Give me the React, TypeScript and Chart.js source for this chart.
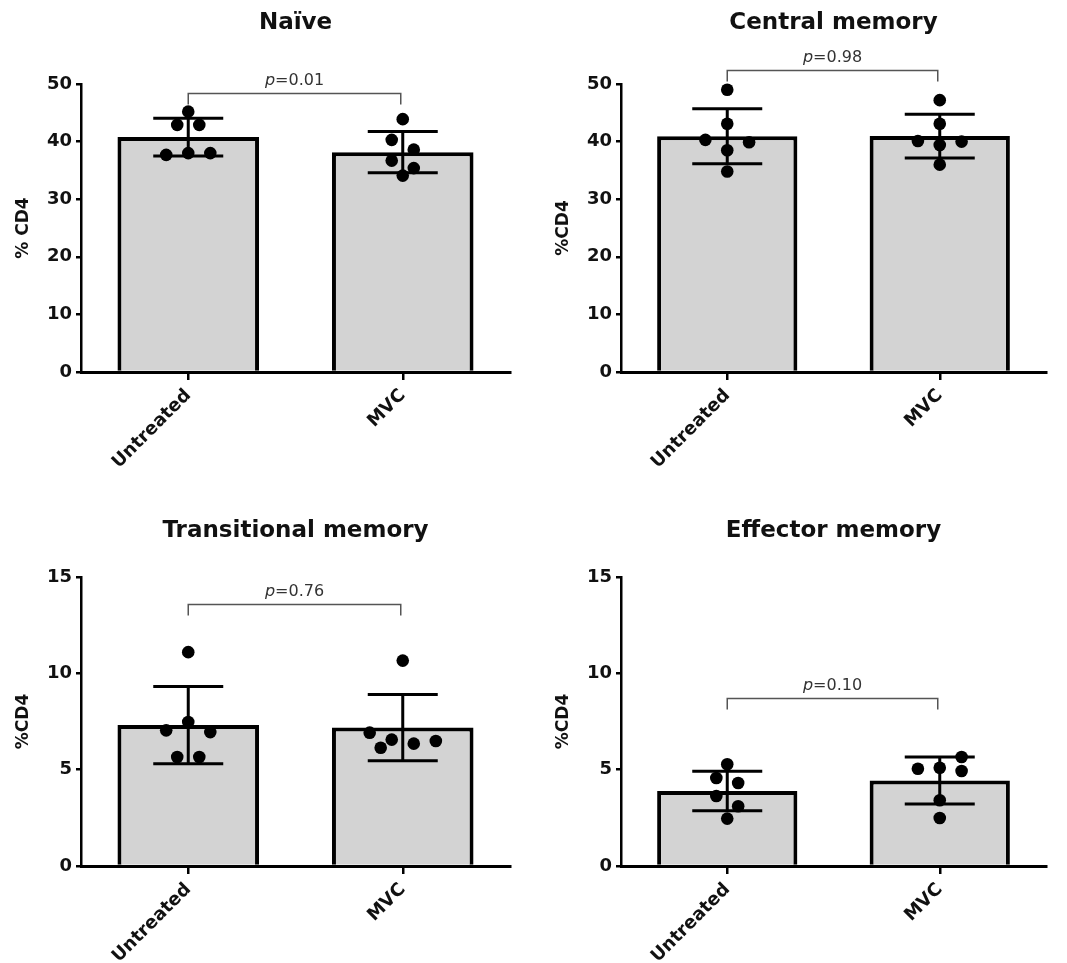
import React, { useEffect, useRef } from 'react';
import { Chart, registerables } from 'chart.js';

Chart.register(...registerables);

// ---------------- data ----------------
const categories = ['Untreated', 'MVC'];
const panelTitles = ['Naïve', 'Central memory', 'Transitional memory', 'Effector memory'];
const yAxisTitles = ['% CD4', '%CD4', '%CD4', '%CD4'];
const yMaxValues = [50, 50, 15, 15];
const yStepValues = [10, 10, 5, 5];
const pValues = ['0.01', '0.98', '0.76', '0.10'];
const bracketLevels = [48.4, 52.5, 13.6, 8.74];

const naiveUntreated = [45.2, 42.9, 42.9, 37.7, 38.0, 38.0];
const naiveMVC = [43.9, 40.3, 38.6, 36.7, 35.4, 34.1];
const centralUntreated = [49.0, 43.1, 40.3, 38.5, 39.9, 34.8];
const centralMVC = [47.2, 43.1, 40.1, 39.4, 40.0, 36.0];
const transitionalUntreated = [11.1, 7.04, 7.47, 6.95, 5.66, 5.66];
const transitionalMVC = [10.66, 6.92, 6.56, 6.35, 6.49, 6.14];
const effectorUntreated = [5.28, 4.57, 4.31, 3.63, 3.1, 2.46];
const effectorMVC = [5.05, 5.1, 5.66, 4.93, 3.41, 2.49];

const seriesByPanel = [
  [naiveUntreated, naiveMVC],
  [centralUntreated, centralMVC],
  [transitionalUntreated, transitionalMVC],
  [effectorUntreated, effectorMVC],
];

// ---------------- layout / style ----------------
const FONT = '"DejaVu Sans", "Liberation Sans", Arial, sans-serif';
const INK = '#111';
const BAR_FILL = '#d3d3d3';

type Layout = { left: number; top: number; w: number; h: number; aL: number; aR: number; aT: number; aB: number; titleY: number };
const layouts: Layout[] = [
  { left: 0, top: 0, w: 530, h: 480, aL: 81, aR: 510, aT: 84, aB: 372, titleY: 23 },
  { left: 530, top: 0, w: 537, h: 480, aL: 91, aR: 516, aT: 84, aB: 372, titleY: 23 },
  { left: 0, top: 480, w: 530, h: 483, aL: 81, aR: 510, aT: 97, aB: 386, titleY: 51 },
  { left: 530, top: 480, w: 537, h: 483, aL: 91, aR: 516, aT: 97, aB: 386, titleY: 51 },
];

const DOT_SPACING_PX = 22;
const ROW_TOL_PX = 12.5;
const DOT_DIAM_PX = 12;
const CAT_WIDTH_PX = 214;
const PLOT_HEIGHT_PX = 289;
const CAP_HALF = 35;

function mean(v: number[]) {
  return v.reduce((a, b) => a + b, 0) / v.length;
}
function sd(v: number[]) {
  const m = mean(v);
  return Math.sqrt(v.reduce((a, b) => a + (b - m) * (b - m), 0) / (v.length - 1));
}

// GraphPad-like scatter-dot layout: rows of near-equal values, centred, collision-avoiding
function swarmOffsets(values: number[], yMax: number): number[] {
  const pxPerUnit = PLOT_HEIGHT_PX / yMax;
  const order = values.map((_, i) => i).sort((a, b) => values[b] - values[a]);
  const rows: number[][] = [];
  let cur: number[] = [];
  let start = 0;
  for (const i of order) {
    if (cur.length && (start - values[i]) * pxPerUnit <= ROW_TOL_PX) cur.push(i);
    else {
      if (cur.length) rows.push(cur);
      cur = [i];
      start = values[i];
    }
  }
  if (cur.length) rows.push(cur);
  const offs = new Array(values.length).fill(0);
  const placed: number[] = [];
  const collides = (i: number, dx: number) =>
    placed.some((j) => Math.hypot(offs[j] - dx, (values[j] - values[i]) * pxPerUnit) < DOT_DIAM_PX);
  const shifts = [0, -11, 11, -22, 22, -33, 33, -44, 44];
  for (const row of rows) {
    row.sort((a, b) => a - b);
    const n = row.length;
    let shift = 0;
    for (const s of shifts) {
      if (row.every((i, k) => !collides(i, (k - (n - 1) / 2) * DOT_SPACING_PX + s))) {
        shift = s;
        break;
      }
    }
    row.forEach((i, k) => {
      offs[i] = (k - (n - 1) / 2) * DOT_SPACING_PX + shift;
    });
    row.forEach((i) => placed.push(i));
  }
  return offs.map((o) => o / CAT_WIDTH_PX);
}

function Panel({ index }: { index: number }) {
  const ref = useRef<HTMLCanvasElement>(null);
  const L = layouts[index];

  useEffect(() => {
    const canvas = ref.current;
    if (!canvas) return;
    const series = seriesByPanel[index];
    const yMax = yMaxValues[index];
    const means = series.map(mean);
    const sds = series.map(sd);
    const points = series.flatMap((vals, ci) => {
      const offs = swarmOffsets(vals, yMax);
      return vals.map((v, i) => ({ x: ci + offs[i], y: v }));
    });

    const overlay = {
      id: 'overlay' + index,
      afterDatasetsDraw(chart: any) {
        const c = chart.ctx;
        const xs = chart.scales.x;
        const ys = chart.scales.y;
        c.save();
        c.strokeStyle = '#000';
        c.lineWidth = 3;
        means.forEach((m, i) => {
          const px = xs.getPixelForValue(i);
          const t = ys.getPixelForValue(m + sds[i]);
          const b = ys.getPixelForValue(m - sds[i]);
          c.beginPath();
          c.moveTo(px, t);
          c.lineTo(px, b);
          c.moveTo(px - CAP_HALF, t);
          c.lineTo(px + CAP_HALF, t);
          c.moveTo(px - CAP_HALF, b);
          c.lineTo(px + CAP_HALF, b);
          c.stroke();
        });
        c.restore();
      },
      afterDraw(chart: any) {
        const c = chart.ctx;
        const xs = chart.scales.x;
        const ys = chart.scales.y;
        const area = chart.chartArea;
        c.save();
        // bracket
        const x0 = xs.getPixelForValue(0);
        const x1 = xs.getPixelForValue(1) - 2;
        const by = Math.round(ys.getPixelForValue(bracketLevels[index])) + 0.5;
        c.strokeStyle = '#555';
        c.lineWidth = 1.5;
        c.beginPath();
        c.moveTo(x0, by + 11);
        c.lineTo(x0, by);
        c.lineTo(x1, by);
        c.lineTo(x1, by + 11);
        c.stroke();
        // p text
        c.fillStyle = '#333';
        c.textBaseline = 'alphabetic';
        const fi = `italic 16px ${FONT}`;
        const fn = `16px ${FONT}`;
        c.font = fi;
        const wp = c.measureText('p').width;
        const rest = '=' + pValues[index];
        c.font = fn;
        const wr = c.measureText(rest).width;
        const mid = (x0 + x1) / 2;
        const sx = mid - (wp + wr) / 2;
        c.textAlign = 'left';
        c.font = fi;
        c.fillText('p', sx, by - 9);
        c.font = fn;
        c.fillText(rest, sx + wp, by - 9);
        // panel title
        c.fillStyle = INK;
        c.font = `bold 23px ${FONT}`;
        c.textAlign = 'center';
        c.textBaseline = 'middle';
        c.fillText(panelTitles[index], (area.left + area.right) / 2, L.titleY);
        // y axis title
        c.translate(area.left - 57, (area.top + area.bottom) / 2);
        c.rotate(-Math.PI / 2);
        c.font = `bold 17px ${FONT}`;
        c.fillText(yAxisTitles[index], 0, 0);
        c.restore();
      },
    };

    const chart = new Chart(canvas, {
      type: 'bar',
      data: {
        labels: categories,
        datasets: [
          {
            type: 'bar',
            data: means,
            backgroundColor: BAR_FILL,
            borderColor: '#000',
            borderWidth: 4,
            barPercentage: 0.66,
            categoryPercentage: 1,
            grouped: false,
            order: 2,
          } as any,
          {
            type: 'scatter',
            xAxisID: 'x2',
            data: points,
            backgroundColor: '#000',
            borderColor: '#000',
            borderWidth: 0,
            pointRadius: 6.3,
            clip: false,
            order: 1,
          } as any,
        ],
      },
      options: {
        responsive: false,
        animation: false,
        events: [],
        layout: { padding: { top: L.aT, right: L.w - L.aR, left: 0, bottom: 0 } },
        plugins: {
          legend: { display: false },
          tooltip: { enabled: false },
          title: { display: false },
        },
        scales: {
          x: {
            type: 'category',
            offset: true,
            grid: { display: true, drawOnChartArea: false, offset: false, tickLength: 8, lineWidth: 2.5, color: '#000' },
            border: { display: true, color: '#000', width: 3 },
            ticks: { font: { family: FONT, size: 18, weight: 'bold' }, color: INK, minRotation: 45, maxRotation: 45, padding: 5 },
            afterFit: (s: any) => {
              s.height = L.h - L.aB;
            },
          },
          x2: { type: 'linear', min: -0.5, max: 1.5, offset: false, display: false, grid: { offset: false } },
          y: {
            min: 0,
            max: yMax,
            ticks: { stepSize: yStepValues[index], font: { family: FONT, size: 18, weight: 'bold' }, color: INK, padding: 4 },
            grid: { display: true, drawOnChartArea: false, tickLength: 5, lineWidth: 2.5, color: '#000' },
            border: { display: true, color: '#000', width: 2.5 },
            afterFit: (s: any) => {
              s.width = L.aL;
            },
          },
        } as any,
      },
      plugins: [overlay],
    });
    return () => chart.destroy();
  }, [index]);

  return (
    <canvas
      ref={ref}
      width={L.w}
      height={L.h}
      style={{ position: 'absolute', left: L.left, top: L.top, width: L.w, height: L.h }}
    />
  );
}

export default function App() {
  return (
    <div style={{ position: 'fixed', left: 0, top: 0, width: 1067, height: 963, background: '#fff' }}>
      {[0, 1, 2, 3].map((i) => (
        <Panel key={i} index={i} />
      ))}
    </div>
  );
}
